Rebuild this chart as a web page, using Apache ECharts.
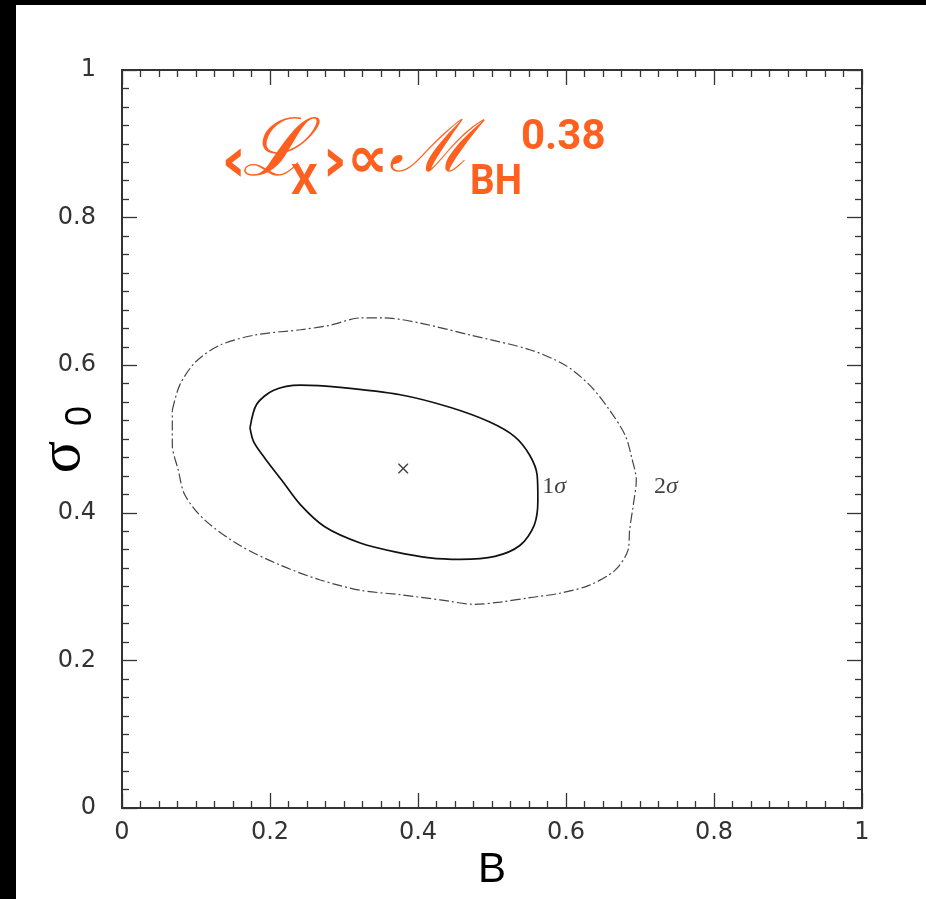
<!DOCTYPE html>
<html>
<head>
<meta charset="utf-8">
<script src="https://cdn.jsdelivr.net/npm/echarts@6/dist/echarts.min.js"></script>
<style>
html,body{margin:0;padding:0;background:#000;}
#chart{width:926px;height:899px;}
</style>
</head>
<body>
<div id="chart"></div>
<script>
// ---- data ----
var xTickLabels = ['0', '0.2', '0.4', '0.6', '0.8', '1'];
var yTickLabels = ['0', '0.2', '0.4', '0.6', '0.8', '1'];
var bestFit = [0.38, 0.46];
// 1-sigma contour (B, sigma0)
var contour1 = [
  [0.173,0.515],[0.182,0.547],[0.205,0.566],[0.241,0.573],[0.295,0.570],[0.376,0.560],
  [0.443,0.543],[0.497,0.523],[0.531,0.503],[0.551,0.478],[0.561,0.451],[0.562,0.417],
  [0.557,0.383],[0.538,0.356],[0.504,0.341],[0.457,0.337],[0.416,0.339],[0.369,0.347],
  [0.322,0.359],[0.274,0.381],[0.241,0.411],[0.216,0.444],[0.193,0.474],[0.178,0.496],
  [0.173,0.515]
];
// 2-sigma contour
var contour2 = [
  [0.068,0.539],[0.078,0.573],[0.099,0.604],[0.132,0.627],[0.180,0.641],[0.241,0.648],
  [0.281,0.654],[0.322,0.664],[0.355,0.664],[0.403,0.657],[0.470,0.641],[0.551,0.621],
  [0.599,0.600],[0.632,0.573],[0.659,0.539],[0.680,0.505],[0.689,0.474],[0.695,0.444],
  [0.691,0.411],[0.686,0.377],[0.684,0.350],[0.666,0.322],[0.632,0.302],[0.592,0.291],
  [0.551,0.285],[0.511,0.279],[0.477,0.276],[0.430,0.282],[0.376,0.289],[0.322,0.295],
  [0.268,0.309],[0.214,0.329],[0.159,0.356],[0.112,0.390],[0.085,0.424],[0.076,0.458],
  [0.068,0.492],[0.068,0.539]
];
var contourLabels = [
  {name: '1', value: [0.568, 0.435]},
  {name: '2', value: [0.719, 0.435]}
];
var xName = 'B';
var yName = ['σ', '0'];

// ---- chart ----
var chart = echarts.init(document.getElementById('chart'), null, {renderer: 'canvas'});
var axisColor = '#333';
var tickFont = {fontFamily: 'DejaVu Sans', fontSize: 24, color: '#333'};

function makeX(pos, showLabel) {
  return {
    type: 'value', min: 0, max: 1, interval: 0.2, position: pos,
    axisLine: {show: true, onZero: false, lineStyle: {color: axisColor, width: 2}},
    axisTick: {show: true, inside: true, length: 15, lineStyle: {color: axisColor, width: 1.3}},
    minorTick: {show: true, splitNumber: 8, length: 7, lineStyle: {color: axisColor, width: 1.3}},
    splitLine: {show: false}, minorSplitLine: {show: false},
    axisLabel: Object.assign({show: showLabel, margin: 13,
      formatter: function (v) { return xTickLabels[Math.round(v / 0.2)]; }}, tickFont),
    name: showLabel ? xName : '', nameLocation: 'middle', nameGap: 31,
    nameTextStyle: {fontFamily: 'Liberation Sans', fontSize: 42, color: '#000'}
  };
}
function makeY(pos, showLabel) {
  return {
    type: 'value', min: 0, max: 1, interval: 0.2, position: pos,
    axisLine: {show: true, onZero: false, lineStyle: {color: axisColor, width: 2}},
    axisTick: {show: true, inside: true, length: 15, lineStyle: {color: axisColor, width: 1.3}},
    minorTick: {show: true, splitNumber: 8, length: 7, lineStyle: {color: axisColor, width: 1.3}},
    splitLine: {show: false}, minorSplitLine: {show: false},
    axisLabel: Object.assign({show: showLabel, margin: 26,
      formatter: function (v) { return yTickLabels[Math.round(v / 0.2)]; }}, tickFont)
  };
}

var orange = '#ff5f1f';
var option = {
  backgroundColor: '#fff',
  animation: false,
  grid: {left: 122, top: 70, width: 740, height: 738},
  xAxis: [makeX('bottom', true), makeX('top', false)],
  yAxis: [makeY('left', true), makeY('right', false)],
  graphic: [
    {type: 'rect', left: 0, top: 0, shape: {width: 926, height: 5}, style: {fill: '#000'}, z: 100},
    {type: 'rect', left: 0, top: 0, shape: {width: 16, height: 899}, style: {fill: '#000'}, z: 100},
    // y-axis name sigma_0 (rotated)
    {type: 'text', x: 63, y: 457, rotation: Math.PI / 2,
      style: {text: yName[0], font: '60px "Liberation Serif"', fill: '#000', align: 'center', verticalAlign: 'middle'}},
    {type: 'text', x: 81, y: 416, rotation: Math.PI / 2,
      style: {text: yName[1], font: '36px "Liberation Sans"', fill: '#000', align: 'center', verticalAlign: 'middle'}},
    // title
    {type: 'text', x: 221, y: 165, style: {text: '‹', font: 'bold 62px "DejaVu Sans"', fill: orange, verticalAlign: 'middle'}},
    {type: 'text', x: 242, y: 154, style: {text: 'ℒ', font: 'italic 80px "DejaVu Serif"', fill: orange, verticalAlign: 'middle'}},
    {type: 'text', x: 291, y: 183, style: {text: 'X', font: 'bold 42px Roboto', fill: orange, verticalAlign: 'middle'}},
    {type: 'text', x: 322, y: 165, style: {text: '›', font: 'bold 62px "DejaVu Sans"', fill: orange, verticalAlign: 'middle'}},
    {type: 'text', x: 347, y: 162, style: {text: '∝', font: 'bold 58px "DejaVu Sans"', fill: orange, verticalAlign: 'middle'}},
    {type: 'text', x: 389, y: 152, style: {text: 'ℳ', font: 'italic 72px "DejaVu Serif"', fill: orange, verticalAlign: 'middle'}},
    {type: 'text', x: 470, y: 183, scaleX: 0.92, style: {text: 'BH', font: 'bold 42px Roboto', fill: orange, verticalAlign: 'middle'}},
    {type: 'text', x: 521, y: 138, style: {text: '0.38', font: 'bold 42px Roboto', fill: orange, verticalAlign: 'middle'}}
  ],
  series: [
    {
      type: 'line', data: contour2, smooth: 0.3, showSymbol: false, symbol: 'none',
      lineStyle: {color: '#444', width: 1.2, type: [10, 3, 2, 3]}, z: 3
    },
    {
      type: 'line', data: contour1, smooth: 0.3, showSymbol: false, symbol: 'none',
      lineStyle: {color: '#111', width: 1.7, type: 'solid'}, z: 3
    },
    {
      type: 'scatter', data: [bestFit], symbol: 'path://M0,0L1,0L5,4L9,0L10,0L10,1L6,5L10,9L10,10L9,10L5,6L1,10L0,10L0,9L4,5L0,1Z',
      symbolSize: 10, itemStyle: {color: '#111'}, z: 4
    },
    {
      type: 'scatter', data: contourLabels, symbolSize: 0,
      label: {show: true, position: 'right', distance: 0,
        formatter: function (p) { return p.name + '{i|σ}'; },
        fontFamily: 'Liberation Serif', fontSize: 24, color: '#111',
        rich: {i: {fontFamily: 'Liberation Serif', fontStyle: 'italic', fontSize: 24, color: '#111'}}},
      z: 4
    }
  ]
};
chart.setOption(option);
</script>
</body>
</html>
